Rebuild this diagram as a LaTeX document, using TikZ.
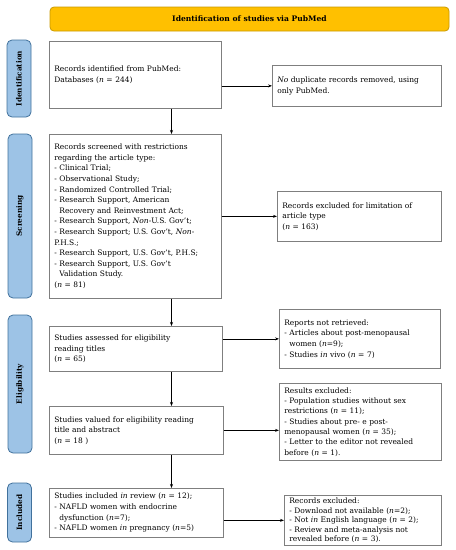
\documentclass[tikz,border=0pt]{standalone}
\usetikzlibrary{positioning,calc,arrows.meta}
\usepackage{xcolor}
\usepackage{fontspec}
\setmainfont{DejaVu Serif}

\definecolor{bannerfill}{HTML}{FFC000}
\definecolor{bannerdraw}{HTML}{C99A00}
\definecolor{phasefill}{HTML}{9DC3E6}
\definecolor{phasedraw}{HTML}{41719C}
\definecolor{boxdraw}{HTML}{7F7F7F}

\begin{document}
\begin{tikzpicture}[x=1pt,y=-1pt]
	% styles of the flow chart
	\tikzstyle{banner} = [rectangle, rounded corners=4pt, fill=bannerfill, draw=bannerdraw, line width=0.8pt, minimum width=399pt, minimum height=24pt, font=\fontsize{7.6}{9}\selectfont\bfseries]	% top title
	\tikzstyle{phase} = [rectangle, rounded corners=5pt, fill=phasefill, draw=phasedraw, line width=0.8pt, rotate=90, minimum height=24pt, font=\fontsize{7.3}{9}\selectfont\bfseries]	% side labels
	\tikzstyle{record} = [rectangle, draw=boxdraw, line width=0.7pt, anchor=north west, inner xsep=5pt, align=left, font=\fontsize{7.5}{10.6}\selectfont]	% boxes
	\tikzstyle{arrow} = [line width=0.6pt, -{Stealth[length=4pt,width=3pt]}]	% arrows
	\useasboundingbox (0,0) rectangle (456,550);

	\node (title) [banner] at (249.5,19) {Identification of studies via PubMed};

	\node (lblident) [phase, minimum width=77pt] at (19,78.5) {Identification};
	\node (lblscreen) [phase, minimum width=164pt] at (20,216) {Screening};
	\node (lblelig) [phase, minimum width=138pt] at (20,384) {Eligibility};
	\node (lblincl) [phase, minimum width=59pt] at (19.5,512.5) {Included};

	\node (ident) [record, minimum width=172pt, minimum height=67pt, text width=162pt] at (49,41) {Records identified from PubMed:\\ Databases (\textit{n} = 244)};
	\node (screen) [record, minimum width=172pt, minimum height=164pt, text width=162pt] at (49,134) {Records screened with restrictions\\ regarding the article type:\\ - Clinical Trial;\\ - Observational Study;\\ - Randomized Controlled Trial;\\ - Research Support, American\\ \phantom{- }Recovery and Reinvestment Act;\\ - Research Support, \textit{Non}-U.S. Gov't;\\ - Research Support; U.S. Gov't, \textit{Non}-\\ P.H.S.;\\ - Research Support, U.S. Gov't, P.H.S;\\ - Research Support, U.S. Gov't\\ \phantom{- }Validation Study.\\ (\textit{n} = 81)};
	\node (assess) [record, minimum width=173pt, minimum height=45pt, text width=163pt] at (49,326) {Studies assessed for eligibility\\ reading titles\\ (\textit{n} = 65)};
	\node (valued) [record, minimum width=174pt, minimum height=48pt, text width=164pt] at (49,406) {Studies valued for eligibility reading\\ title and abstract\\ (\textit{n} = 18 )};
	\node (incl) [record, minimum width=174pt, minimum height=49pt, text width=164pt] at (49,488) {Studies included \textit{in} review (\textit{n} = 12);\\ - NAFLD women with endocrine\\ \phantom{- }dysfunction (\textit{n}=7);\\ - NAFLD women \textit{in} pregnancy (\textit{n}=5)};

	\node (dup) [record, minimum width=169pt, minimum height=41pt, text width=159pt] at (272,65) {\textit{No} duplicate records removed, using\\ only PubMed.};
	\node (limit) [record, minimum width=164pt, minimum height=50pt, text width=154pt] at (277,191) {Records excluded for limitation of\\ article type\\ (\textit{n} = 163)};
	\node (notret) [record, minimum width=161pt, minimum height=59pt, text width=151pt] at (279,309) {Reports not retrieved:\\ - Articles about post-menopausal\\ \phantom{- }women (\textit{n}=9);\\ - Studies \textit{in} vivo (\textit{n} = 7)};
	\node (resexcl) [record, minimum width=162pt, minimum height=77pt, text width=152pt, inner ysep=1pt, font=\fontsize{7.5}{10.3}\selectfont] at (279,383) {Results excluded:\\ - Population studies without sex\\ restrictions (\textit{n} = 11);\\ - Studies about pre- e post-\\ menopausal women (\textit{n} = 35);\\ - Letter to the editor not revealed\\ before (\textit{n} = 1).};
	\node (recexcl) [record, minimum width=157pt, minimum height=50pt, text width=147pt, inner ysep=0.5pt, font=\fontsize{7.5}{9.6}\selectfont] at (284,495) {Records excluded:\\ - Download not available (\textit{n}=2);\\ - Not \textit{in} English language (\textit{n} = 2);\\ - Review and meta-analysis not\\ revealed before (\textit{n} = 3).};

	% column of the down arrows
	\coordinate (col) at (171.5,0);

	\draw [arrow] (ident.south -| col) -- (screen.north -| col);
	\draw [arrow] (screen.south -| col) -- (assess.north -| col);
	\draw [arrow] (assess.south -| col) -- (valued.north -| col);
	\draw [arrow] (valued.south -| col) -- (incl.north -| col);

	\draw [arrow] (ident.east |- dup.west) -- (dup.west);
	\draw [arrow] (screen.east |- limit.west) -- (limit.west);
	\draw [arrow] (assess.east |- notret.west) -- (notret.west);
	\draw [arrow] (valued.east) -- (valued.east -| resexcl.west);
	\draw [arrow] (incl.east |- recexcl.west) -- (recexcl.west);
\end{tikzpicture}
\end{document}
